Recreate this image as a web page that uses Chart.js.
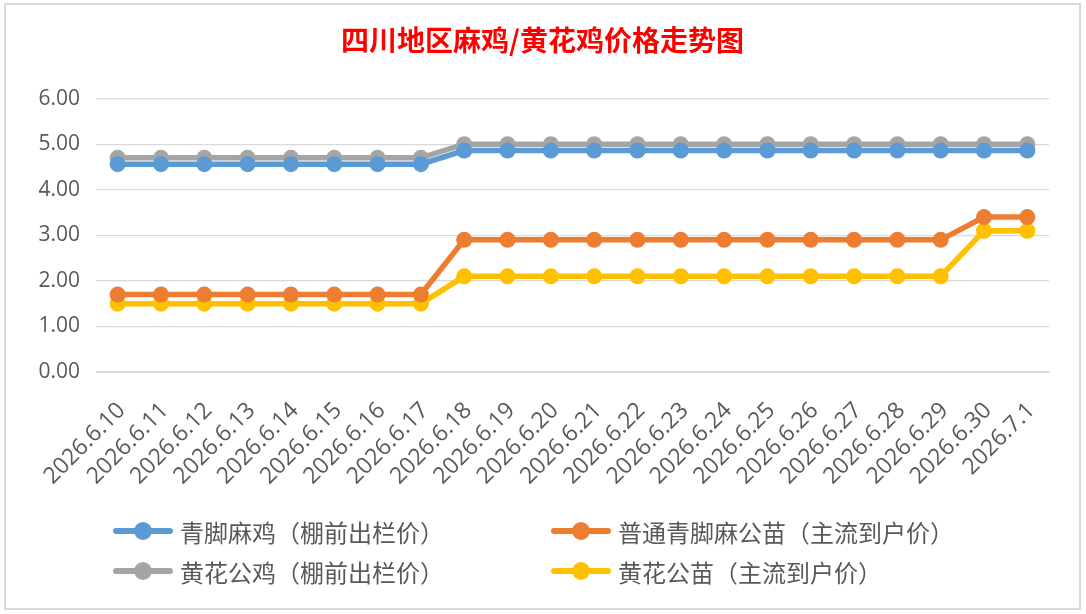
<!DOCTYPE html>
<html>
<head>
<meta charset="utf-8">
<title>四川地区麻鸡/黄花鸡价格走势图</title>
<script src="https://cdn.jsdelivr.net/npm/chart.js@4.4.1/dist/chart.umd.min.js"></script>
<style>
  html, body { margin: 0; padding: 0; background: #fff; }
  #wrap { position: relative; width: 1086px; height: 614px; overflow: hidden; }
  #frame { position: absolute; left: 4px; top: 3px; width: 1073px; height: 603px;
           border: 2px solid #d9d9d9; pointer-events: none; }
  .lg { position: absolute; height: 30px; display: flex; align-items: center;
        font: 24px "Noto Sans CJK SC", sans-serif; color: #595959; white-space: nowrap; }
  .lg .mk { position: relative; width: 60px; height: 30px; margin-right: 7px; }
  .lg .mk i { position: absolute; left: 0; top: 12px; width: 60px; height: 6px; border-radius: 3px; }
  .lg .mk b { position: absolute; left: 21px; top: 6px; width: 18px; height: 18px; border-radius: 50%; }
</style>
</head>
<body>
<div id="wrap">
  <canvas id="priceChart"></canvas>
  <div id="legend"></div>
  <div id="frame"></div>
</div>
<script>
// dates on the x axis
var categories = ['2026.6.10', '2026.6.11', '2026.6.12', '2026.6.13', '2026.6.14', '2026.6.15',
  '2026.6.16', '2026.6.17', '2026.6.18', '2026.6.19', '2026.6.20', '2026.6.21', '2026.6.22',
  '2026.6.23', '2026.6.24', '2026.6.25', '2026.6.26', '2026.6.27', '2026.6.28', '2026.6.29',
  '2026.6.30', '2026.7.1'];

// series
var qingjiaoMaji = [4.56, 4.56, 4.56, 4.56, 4.56, 4.56, 4.56, 4.56, 4.86, 4.86, 4.86, 4.86, 4.86, 4.86, 4.86, 4.86, 4.86, 4.86, 4.86, 4.86, 4.86, 4.86];
var putongGongmiao = [1.7, 1.7, 1.7, 1.7, 1.7, 1.7, 1.7, 1.7, 2.9, 2.9, 2.9, 2.9, 2.9, 2.9, 2.9, 2.9, 2.9, 2.9, 2.9, 2.9, 3.4, 3.4];
var huanghuaGongji = [4.7, 4.7, 4.7, 4.7, 4.7, 4.7, 4.7, 4.7, 5.0, 5.0, 5.0, 5.0, 5.0, 5.0, 5.0, 5.0, 5.0, 5.0, 5.0, 5.0, 5.0, 5.0];
var huanghuaGongmiao = [1.5, 1.5, 1.5, 1.5, 1.5, 1.5, 1.5, 1.5, 2.1, 2.1, 2.1, 2.1, 2.1, 2.1, 2.1, 2.1, 2.1, 2.1, 2.1, 2.1, 3.1, 3.1];

var seriesNames = ['青脚麻鸡（棚前出栏价）', '普通青脚麻公苗（主流到户价）', '黄花公鸡（棚前出栏价）', '黄花公苗（主流到户价）'];
var yTicks = [0, 1, 2, 3, 4, 5, 6];

var colors = ['#5B9BD5', '#ED7D31', '#A5A5A5', '#FFC000'];
var seriesData = [qingjiaoMaji, putongGongmiao, huanghuaGongji, huanghuaGongmiao];

function makeSet(i) {
  return {
    label: seriesNames[i],
    data: seriesData[i],
    borderColor: colors[i],
    backgroundColor: colors[i],
    borderWidth: 5.5,
    pointRadius: 8,
    pointHoverRadius: 8,
    pointBorderWidth: 0,
    tension: 0
  };
}

var ctx = document.getElementById('priceChart').getContext('2d');
var chart = new Chart(ctx, {
  type: 'line',
  data: {
    labels: categories,
    datasets: [makeSet(0), makeSet(1), makeSet(2), makeSet(3)]
  },
  options: {
    responsive: true,
    maintainAspectRatio: false,
    animation: false,
    layout: { padding: { left: 36, right: 37, top: 4, bottom: 0 } },
    plugins: {
      legend: { display: false },
      tooltip: { enabled: false },
      title: {
        display: true,
        text: '四川地区麻鸡/黄花鸡价格走势图',
        color: '#FF0000',
        font: { family: '"Noto Sans CJK SC", sans-serif', size: 28, weight: 'bold' },
        padding: { top: 20, bottom: 41 }
      }
    },
    scales: {
      x: {
        offset: true,
        grid: { display: false },
        border: { color: '#D9D9D9' },
        ticks: {
          minRotation: 45, maxRotation: 45, autoSkip: false, padding: 17, labelOffset: 4,
          color: '#595959',
          font: { family: '"Open Sans", sans-serif', size: 23 }
        },
        afterFit: function (s) { s.height = 242; }
      },
      y: {
        min: yTicks[0],
        max: yTicks[yTicks.length - 1],
        afterBuildTicks: function (s) { s.ticks = yTicks.map(function (v) { return { value: v }; }); },
        grid: { color: '#D9D9D9', lineWidth: 1.3, drawTicks: false },
        border: { display: false },
        ticks: {
          padding: 16,
          color: '#595959',
          font: { family: '"Open Sans", sans-serif', size: 21 },
          callback: function (v) { return Number(v).toFixed(2); }
        },
        afterFit: function (s) { s.width = 60; }
      }
    }
  }
});

// legend as html, two columns, same order as Excel
var legendPos = [[113, 516], [551, 516], [113, 556], [551, 556]];
var lg = document.getElementById('legend');
chart.data.datasets.forEach(function (ds, i) {
  var d = document.createElement('div');
  d.className = 'lg';
  d.style.left = legendPos[i][0] + 'px';
  d.style.top = legendPos[i][1] + 'px';
  d.innerHTML = '<span class="mk"><i style="background:' + ds.borderColor + '"></i><b style="background:' +
    ds.borderColor + '"></b></span><span></span>';
  d.lastChild.textContent = ds.label;
  lg.appendChild(d);
});
</script>
</body>
</html>
